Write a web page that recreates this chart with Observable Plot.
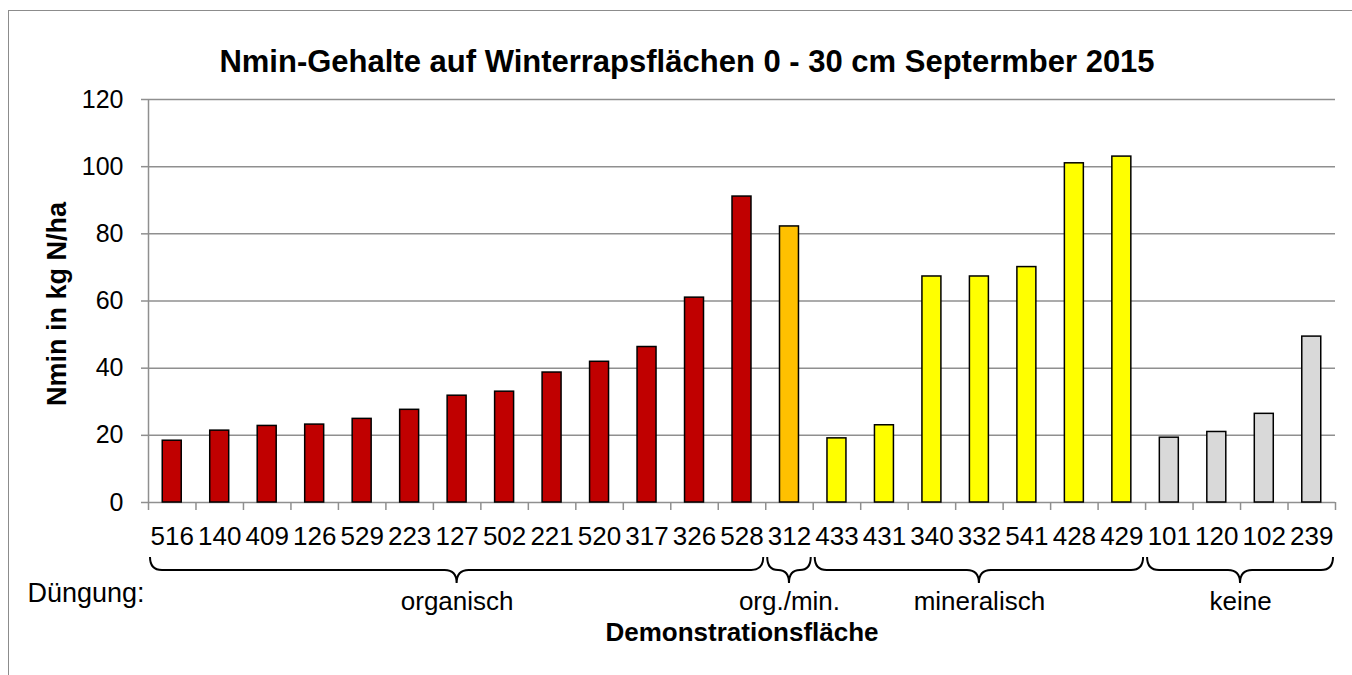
<!DOCTYPE html>
<html>
<head>
<meta charset="utf-8">
<script src="https://cdn.jsdelivr.net/npm/d3@7"></script>
<script src="https://cdn.jsdelivr.net/npm/@observablehq/plot@0.6"></script>
<style>
  html, body { margin: 0; padding: 0; background: #fff; }
  #wrap { position: relative; width: 1352px; height: 675px; overflow: hidden; font-family: "Liberation Sans", Arial, sans-serif; }
  #frame { position: absolute; left: 8px; top: 10px; width: 1400px; height: 700px; border-left: 1.5px solid #8c8c8c; border-top: 1.5px solid #8c8c8c; box-sizing: border-box; }
  #chart { position: absolute; left: 0; top: 0; }
  #ylabel { position: absolute; left: 57px; top: 304px; transform: translate(-50%, -50%) rotate(-90deg); white-space: nowrap; font-weight: bold; font-size: 27px; color: #000; }
  svg { font-family: "Liberation Sans", Arial, sans-serif; }
</style>
</head>
<body>
<div id="wrap"><div id="frame"></div><div id="chart"></div><div id="ylabel"></div></div>
<script>
const title = "Nmin-Gehalte auf Winterrapsflächen 0 - 30 cm Septermber 2015";
const yLabel = "Nmin in kg N/ha";
const xLabel = "Demonstrationsfläche";
const groupLabelPrefix = "Düngung:";

const labels = ["516","140","409","126","529","223","127","502","221","520","317","326","528","312","433","431","340","332","541","428","429","101","120","102","239"];
const values = [18.4,21.4,22.8,23.2,24.9,27.6,31.8,33.0,38.7,41.9,46.3,61.0,91.1,82.2,19.1,23.0,67.3,67.3,70.1,101.0,103.0,19.3,21.0,26.4,49.4];

const groupNames = ["organisch", "org./min.", "mineralisch", "keine"];
const groupCounts = [13, 1, 7, 4];
const groupColors = ["#C00000", "#FFC000", "#FFFF00", "#D9D9D9"];
const yTicks = [0, 20, 40, 60, 80, 100, 120];

// build tables
const groups = [];
let start = 0;
groupNames.forEach((name, k) => {
  groups.push({name, start, end: start + groupCounts[k], color: groupColors[k]});
  start += groupCounts[k];
});
const data = labels.map((label, i) => {
  const g = groups.find(g => i >= g.start && i < g.end);
  return {i, label, value: values[i], group: g.name, color: g.color};
});

const grey = "#8f8f8f";

function braces(index, scales, vals, dims) {
  const g = d3.create("svg:g");
  const y0 = scales.y(0);
  const yTop = y0 + 55, yMid = y0 + 68, yTip = y0 + 81;
  for (const gr of groups) {
    const x1 = scales.x(gr.start) + 2, x2 = scales.x(gr.end) - 2;
    const m = (x1 + x2) / 2;
    const r = Math.min(12, (x2 - x1) / 4);
    const d = `M${x1},${yTop} Q${x1},${yMid} ${x1 + r},${yMid} L${m - r},${yMid} Q${m},${yMid} ${m},${yTip} Q${m},${yMid} ${m + r},${yMid} L${x2 - r},${yMid} Q${x2},${yMid} ${x2},${yTop}`;
    g.append("path").attr("d", d).attr("fill", "none").attr("stroke", "#000").attr("stroke-width", 2);
  }
  return g.node();
}

const chart = Plot.plot({
  width: 1352,
  height: 675,
  marginLeft: 148,
  marginRight: 17,
  marginTop: 99,
  marginBottom: 173,
  style: {fontFamily: '"Liberation Sans", Arial, sans-serif', fontSize: "25px", background: "transparent"},
  x: {type: "linear", domain: [0, labels.length], axis: null},
  y: {domain: [0, 120], axis: null},
  marks: [
    Plot.ruleY(yTicks.filter(d => d > 0), {stroke: grey, strokeWidth: 1.5}),
    Plot.ruleX([0], {stroke: grey, strokeWidth: 1.5}),
    Plot.axisY({ticks: yTicks, tickSize: 7, tickPadding: 18, stroke: grey, strokeWidth: 1.5, label: null, fill: "#000", fontSize: 25, tickFormat: d => d}),
    Plot.axisX({ticks: d3.range(labels.length + 1), tickSize: 8, tickFormat: () => "", stroke: grey, strokeWidth: 1.5, label: null}),
    Plot.ruleY([0], {stroke: grey, strokeWidth: 1.5}),
    Plot.rectY(data, {x1: d => d.i, x2: d => d.i + 1, y: "value", fill: d => d.color, stroke: "#000", strokeWidth: 1.5, insetLeft: 14.25, insetRight: 14.25}),
    Plot.text(data, {x: d => d.i + 0.5, y: 0, text: "label", dy: 34, fontSize: 26, fill: "#000"}),
    braces,
    Plot.text(groups, {x: d => (d.start + d.end) / 2, y: 0, text: "name", dy: 99, fontSize: 26, fill: "#000"}),
    Plot.text([groupLabelPrefix], {frameAnchor: "bottom-left", text: d => d, textAnchor: "start", dx: -121, dy: 99, fontSize: 27, fill: "#000"}),
    Plot.text([xLabel], {frameAnchor: "bottom", text: d => d, dy: 138, fontSize: 26, fontWeight: "bold", fill: "#000"}),
    Plot.text([title], {frameAnchor: "top", text: d => d, dx: -55, dy: -50, fontSize: 31, fontWeight: "bold", fill: "#000"})
  ]
});
document.getElementById("chart").appendChild(chart);
document.getElementById("ylabel").textContent = yLabel;
</script>
</body>
</html>
